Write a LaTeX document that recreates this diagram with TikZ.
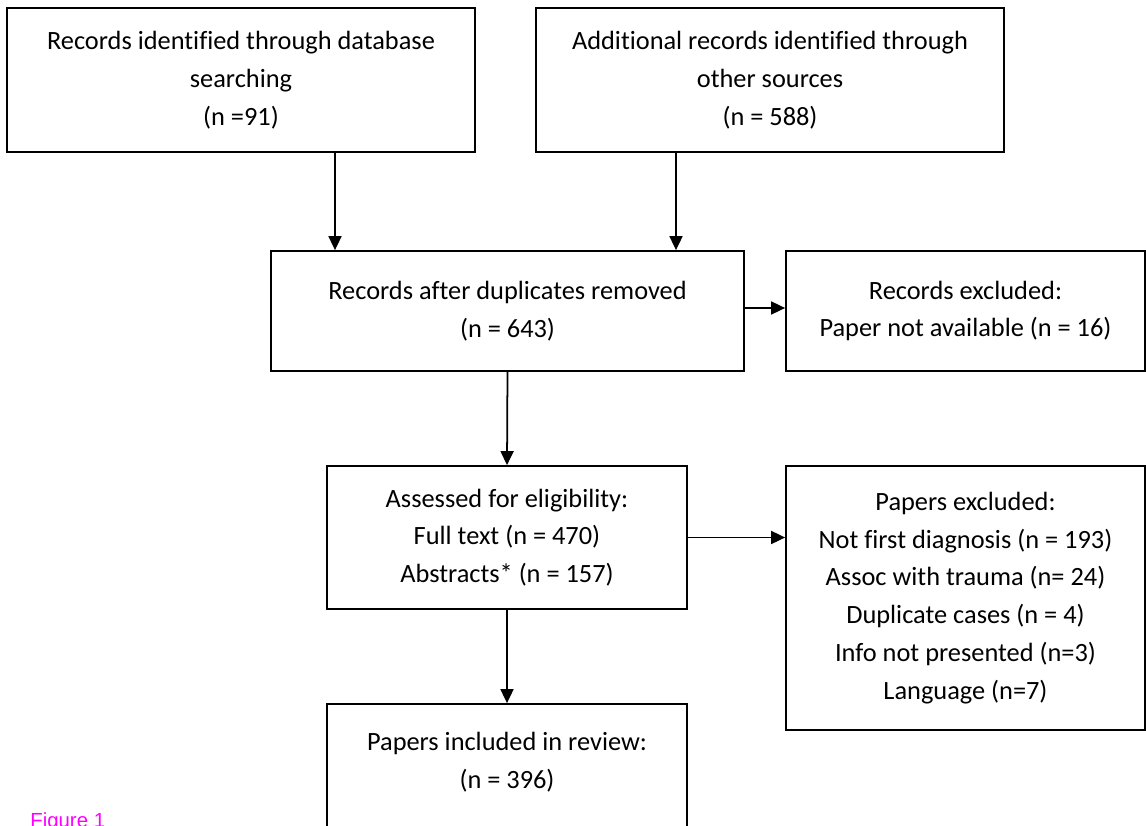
\documentclass[tikz,border=0pt]{standalone}
\usepackage{fontspec}
\setmainfont{Carlito}[Ligatures=NoCommon]
\newfontfamily\figfont{Liberation Sans}
\usetikzlibrary{arrows.meta}
\definecolor{figmagenta}{RGB}{255,0,255}
\begin{document}
\begin{tikzpicture}[
    box/.style={draw, line width=1pt, align=center,
        inner sep=0pt, font=\fontsize{15}{21.5}\selectfont},
    arr/.style={line width=1pt, -{Triangle[length=0.28cm,width=0.26cm]}}
    ]

    \useasboundingbox (0,0) rectangle (22.92,-16.52);

    \node[box,
        minimum width=9.36cm,
        minimum height=2.88cm
    ] (database) at (4.82,-1.60){Records identified through database\\searching\\(n =91)};
    \node[box,
        minimum width=9.36cm,
        minimum height=2.88cm
    ] (other) at (15.40,-1.60){Additional records identified through\\other sources\\(n = 588)};
    \node[box,
        minimum width=9.46cm,
        minimum height=2.40cm
    ] (dupes) at (10.15,-6.22){Records after duplicates removed\\(n = 643)};
    \node[box,
        minimum width=7.18cm,
        minimum height=2.40cm
    ] (recexcl) at (19.31,-6.22){Records excluded:\\Paper not available (n = 16)};
    \node[box,
        minimum width=7.20cm,
        minimum height=2.86cm
    ] (assessed) at (10.14,-10.75){Assessed for eligibility:\\Full text (n = 470)\\Abstracts* (n = 157)};
    \node[box,
        minimum width=7.18cm,
        minimum height=5.28cm
    ] (papexcl) at (19.31,-11.96){Papers excluded:\\Not first diagnosis (n = 193)\\Assoc with trauma (n= 24)\\Duplicate cases (n = 4)\\Info not presented (n=3)\\Language (n=7)};
    \node[box,
        minimum width=7.20cm,
        minimum height=3.00cm
    ] (included) at (10.14,-15.58){Papers included in review:\\(n = 396)\\\mbox{}};

    \draw[arr] ([xshift=1.88cm]database.south) -- ([xshift=1.88cm]database.south |- dupes.north);
    \draw[arr] ([xshift=-1.88cm]other.south) -- ([xshift=-1.88cm]other.south |- dupes.north);
    \draw[arr] ([yshift=0.06cm]dupes.east) -- ([yshift=0.06cm]dupes.east -| recexcl.west);
    \draw[arr] (dupes.south) -- (assessed.north);
    \draw[arr] (assessed.east) -- (assessed.east -| papexcl.west);
    \draw[arr] (assessed.south) -- (included.north);

    \node[anchor=base west, inner sep=0pt, text=figmagenta,
        font=\figfont\fontsize{11.6}{14}\selectfont
    ] (figlabel) at (0.60,-16.54){Figure 1};

    \end{tikzpicture}
\end{document}
